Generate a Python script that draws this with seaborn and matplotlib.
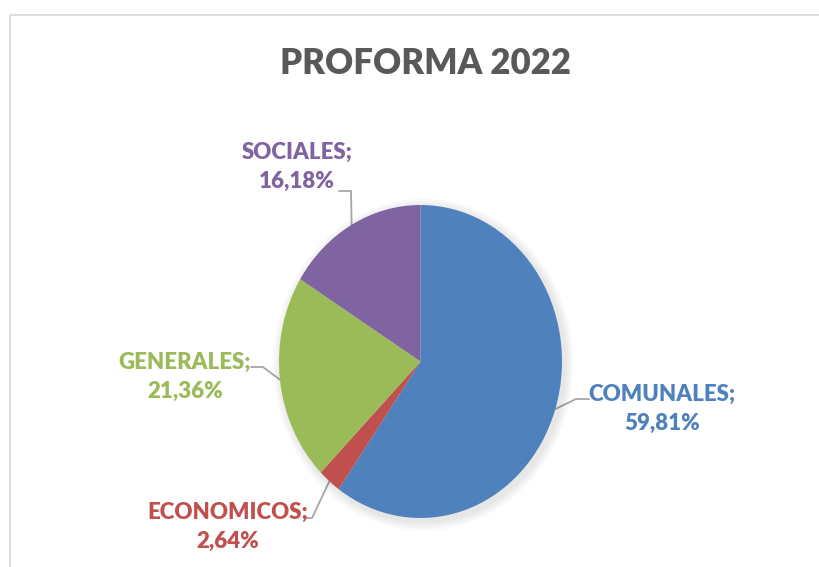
import numpy as np
import matplotlib
matplotlib.use("Agg")
import matplotlib.pyplot as plt
from matplotlib.patches import Ellipse
import seaborn as sns

# ---- data ----
categories = ["COMUNALES", "ECONOMICOS", "GENERALES", "SOCIALES"]
values = [59.81, 2.64, 21.36, 16.18]
value_labels = ["59,81%", "2,64%", "21,36%", "16,18%"]
title = "PROFORMA 2022"

sns.set_theme(style="white")
plt.rcParams["font.family"] = ["Lato", "DejaVu Sans"]
colors = ["#4F81BD", "#C0504D", "#9BBB59", "#8064A2"]

W, H = 819, 567
fig = plt.figure(figsize=(W / 100, H / 100), dpi=100)
fig.patch.set_facecolor("white")

# overlay in pixel coordinates
ov = fig.add_axes([0, 0, 1, 1])
ov.set_xlim(0, W)
ov.set_ylim(H, 0)
ov.axis("off")
ov.plot([9.5, 9.5], [567, 14.5], color="#D9D9D9", lw=1.2, solid_capstyle="butt")
ov.plot([9.5, 819], [14.5, 14.5], color="#D9D9D9", lw=1.2, solid_capstyle="butt")

ov.text(425, 63, title, ha="center", va="center", fontsize=25,
        fontweight="heavy", color="#595959")

# pie axes (slightly elliptical like the reference)
px0, px1, py0, py1 = 279, 562, 205, 518
pax = fig.add_axes([px0 / W, (H - py1) / H, (px1 - px0) / W, (py1 - py0) / H])
pax.patch.set_alpha(0)
# soft shadow
for k, s in enumerate([1.06, 1.045, 1.03, 1.015]):
    pax.add_patch(Ellipse((0.02, -0.02), 2 * s, 2 * s, color="black",
                          alpha=0.025, lw=0, zorder=0, clip_on=False))
wedges, _ = pax.pie(values, colors=colors, startangle=90, counterclock=False,
                    radius=1.0, wedgeprops=dict(linewidth=0, zorder=2))
pax.set_aspect("auto")
pax.set_xlim(-1, 1)
pax.set_ylim(-1, 1)
pax.axis("off")

# label layout (pixel positions of text center, line start, elbow)
text_pos = [(662, 409), (228, 527), (185, 377), (297, 167)]
line_start = [(589, 399), (304, 518), (251, 367), (339, 191)]
elbow = [(576, 399), (312, 518), (263, 367), (351, 191)]

fig.canvas.draw()
for i, w in enumerate(wedges):
    ang = np.deg2rad((w.theta1 + w.theta2) / 2)
    ex, ey = pax.transData.transform((np.cos(ang), np.sin(ang)))
    ey = H - ey
    xs = [line_start[i][0], elbow[i][0], ex]
    ys = [line_start[i][1], elbow[i][1], ey]
    ov.plot(xs, ys, color="#A6A6A6", lw=1.3, zorder=1)
    ov.text(text_pos[i][0], text_pos[i][1], f"{categories[i]};\n{value_labels[i]}",
            ha="center", va="center", multialignment="center", fontsize=16,
            fontweight="heavy", color=colors[i], linespacing=1.45)

fig.savefig("out.png", dpi=100, facecolor="white")
